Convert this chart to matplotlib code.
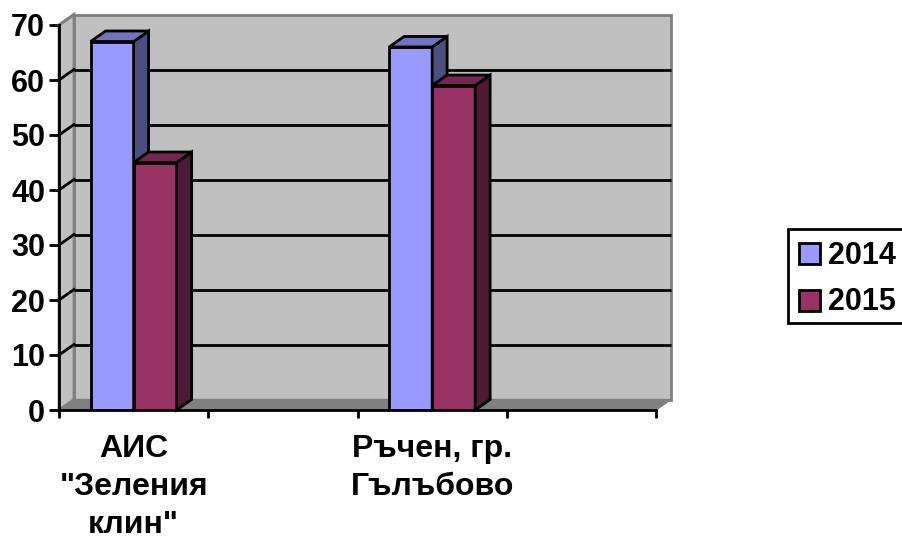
from matplotlib import pyplot as plt
from matplotlib.patches import Polygon, Rectangle
import numpy as np

categories = ['АИС\n"Зеления\nклин"', 'Ръчен, гр.\nГълъбово']
values_2014 = [67, 66]
values_2015 = [45, 59]
y_ticks = [0, 10, 20, 30, 40, 50, 60, 70]
series_names = ['2014', '2015']
series_colors = ['#9999FF', '#993366']

plt.rcParams['font.family'] = ['Liberation Sans', 'DejaVu Sans']
plt.rcParams['font.weight'] = 'bold'

W, H = 902, 538
fig = plt.figure(figsize=(W/100, H/100), dpi=100)
ax = fig.add_axes([59/W, 1-410/H, 597/W, 385/H])
ax.set_xlim(0, 2)
ax.set_ylim(0, 70)

# depth of the fake 3d box, in data units
dx = 15/298.5
dy = 10.5/5.5
bar_w = 43/298.5
GREY = '#808080'


def poly(pts, fc, ec='black', lw=2, z=3):
    ax.add_patch(Polygon(pts, closed=True, facecolor=fc, edgecolor=ec,
                         linewidth=lw, zorder=z, clip_on=False, joinstyle='miter'))


########## walls and floor ##########
poly([(dx, dy), (2+dx, dy), (2+dx, 70+dy), (dx, 70+dy)], '#C0C0C0', GREY, 2, 1)
poly([(0, 0), (dx, dy), (dx, 70+dy), (0, 70)], '#C0C0C0', GREY, 2, 1)
poly([(0, 0), (2, 0), (2+dx, dy), (dx, dy)], GREY, GREY, 1, 1)

########## gridlines ##########
for t in y_ticks[1:-1]:
    ax.plot([dx, 2+dx], [t+dy, t+dy], color='black', lw=2, zorder=2, clip_on=False, solid_capstyle='butt')
    ax.plot([0, dx], [t, t+dy], color='black', lw=2, zorder=2, clip_on=False)
ax.plot([0, dx], [70, 70+dy], color=GREY, lw=2, zorder=2, clip_on=False)


########## bars ##########
def draw_series(x_left, values, front, side, top, z):
    ax.bar(x_left, values, width=bar_w, align='edge', color=front, edgecolor='black',
           linewidth=2, zorder=z)
    for x, v in zip(x_left, values):
        poly([(x+bar_w, 0), (x+bar_w+dx, dy), (x+bar_w+dx, v+dy), (x+bar_w, v)], side, z=z)
        poly([(x, v), (x+bar_w, v), (x+bar_w+dx, v+dy), (x+dx, v+dy)], top, z=z)


centers = np.arange(len(categories)) + 0.25
draw_series(centers-bar_w, values_2014, series_colors[0], '#4D4D80', '#7373BF', 3)
draw_series(centers, values_2015, series_colors[1], '#4D1933', '#732650', 4)

########## axes ##########
for s in ['top', 'right']:
    ax.spines[s].set_visible(False)
for s in ['left', 'bottom']:
    ax.spines[s].set_linewidth(2)
    ax.spines[s].set_zorder(5)
ax.patch.set_alpha(0)

ax.set_yticks(y_ticks)
ax.set_xticks([0, 0.5, 1, 1.5, 2])
ax.set_xticklabels([])
ax.tick_params(axis='both', length=6, width=2, labelsize=22, pad=2)
ax.tick_params(axis='y', length=7, pad=3)

for c, label in zip(centers, categories):
    ax.annotate(label, xy=(c, 0), xycoords=('data', 'axes fraction'), xytext=(0, -17),
                textcoords='offset points', ha='center', va='top', fontsize=23,
                fontweight='bold', linespacing=1.35)

########## legend, drawn by hand since the box runs off the right edge ##########
def px_rect(x0, y0, x1, y1, fc):
    fig.add_artist(Rectangle((x0/W, 1-y1/H), (x1-x0)/W, (y1-y0)/H, transform=fig.transFigure,
                             facecolor=fc, edgecolor='black', linewidth=2))


px_rect(788, 229, 910, 323, 'white')
for name, color, yc in zip(series_names, series_colors, [253.5, 300.5]):
    px_rect(799, yc-10.5, 820, yc+10.5, color)
    fig.text(828/W, 1-(yc-1.5)/H, name, fontsize=22, fontweight='bold', va='center_baseline', ha='left')

fig.savefig('out.png', dpi=100)
